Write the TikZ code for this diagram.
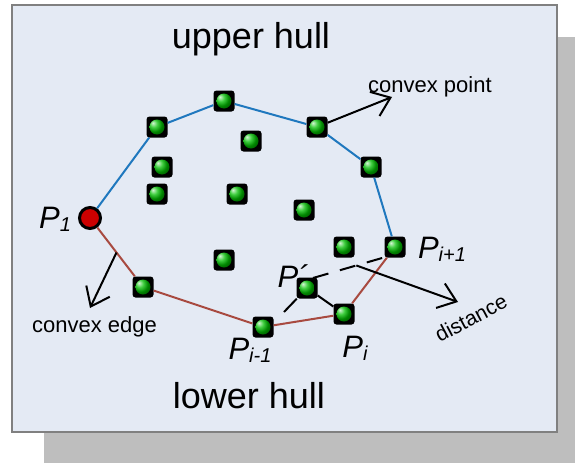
\documentclass[tikz,border=0pt]{standalone}
\usepackage{fontspec}
\setmainfont{Liberation Sans}
\usetikzlibrary{arrows.meta, calc}

\definecolor{panel}{HTML}{E4EAF4}
\definecolor{shadowgray}{HTML}{BEBEBE}
\definecolor{upperblue}{HTML}{1F78BE}
\definecolor{lowerred}{HTML}{A84A40}

\newcommand{\plabel}[1]{P\raisebox{-3pt}{\fontsize{20}{20}\selectfont #1}}

\begin{document}
\begin{tikzpicture}[x=1pt, y=-1pt,
      pt/.style={rectangle, rounded corners=3pt, fill=black, minimum size=21pt, inner sep=0pt,
        path picture={\shade[ball color=green!75!black] (path picture bounding box.center) circle (7.5pt);}},
      start/.style={circle, draw=black, line width=3pt, fill=red!80!black, minimum size=21pt, inner sep=0pt},
      hull/.style={line width=2pt},
      note/.style={-{Straight Barb[length=17pt, width=26pt, line width=2pt]}, line width=2pt},
      big/.style={font=\fontsize{36}{40}\selectfont},
      small/.style={font=\fontsize{22}{24}\selectfont},
      plab/.style={font=\fontsize{31}{32}\selectfont\itshape},
    ]
      \useasboundingbox (0,0) rectangle (575,463);
      \fill[shadowgray] (44,37) rectangle (575,463);
      \draw[gray, line width=1.5pt, fill=panel] (12,5) rectangle (557,432);
      % dashed distance line, under the points
      \coordinate (dA) at (313,278);
      \coordinate (dB) at (389,256);
      \coordinate (dmid) at ($(dA)!.57!(dB)$);
      \draw[line width=2pt, dash pattern=on 16pt off 12pt] (dA) -- (dB);
      \node[start] (p1) at (90,218) {};
      \node[pt] (u1) at (157,127) {};
      \node[pt] (u2) at (224,101) {};
      \node[pt] (u3) at (317,127) {};
      \node[pt] (u4) at (371,167) {};
      \node[pt] (pn) at (395,247) {};
      \node[pt] (l1) at (143,287) {};
      \node[pt] (pm) at (263,327) {};
      \node[pt] (pi) at (344,314) {};
      \node[pt] (pq) at (307,288) {};
      \node[pt] (c1) at (251,141) {};
      \node[pt] (c2) at (162,167) {};
      \node[pt] (c3) at (157,194) {};
      \node[pt] (c4) at (237,194) {};
      \node[pt] (c5) at (304,210) {};
      \node[pt] (c6) at (344,247) {};
      \node[pt] (c7) at (224,260) {};
      \draw[hull, upperblue] (p1) -- (u1) -- (u2) -- (u3) -- (u4) -- (pn);
      \draw[hull, lowerred] (p1) -- (l1) -- (pm) -- (pi) -- (pn);
      \coordinate (foot) at (284,312);
      \draw[line width=2pt] (foot) -- (pq); \draw[line width=2pt] (pq) -- (pi);
      % annotation arrows
      \coordinate (cpt) at (392,97);
      \coordinate (emid) at ($(p1)!.5!(l1)$);
      \coordinate (cet) at (90,308);
      \coordinate (dst) at (458,302);
      \draw[note] (u3) -- (cpt);
      \draw[note] (emid) -- (cet);
      \draw[note] (dmid) -- (dst);
      % labels
      \node[big, anchor=base] (up) at (251,48) {upper hull};
      \node[big, anchor=base] (lo) at (249,408) {lower hull};
      \node[small, anchor=base west, inner sep=0pt] (cp) at (368,92) {convex point};
      \node[small, anchor=base west, inner sep=0pt] (ce) at (32,332) {convex edge};
      \node[font=\fontsize{21}{22}\selectfont, rotate=28, inner sep=0pt] (di) at (471,318) {distance};
      \node[plab] (lp1) at (55,219) {\plabel{1}};
      \node[plab] (lpn) at (442,249) {\plabel{i+1}};
      \node[plab] (lpm) at (250,350) {\plabel{i-1}};
      \node[plab] (lpi) at (355,348) {\plabel{i}};
      \node[plab] (lpq) at (293,276) {P´};
    \end{tikzpicture}
\end{document}
